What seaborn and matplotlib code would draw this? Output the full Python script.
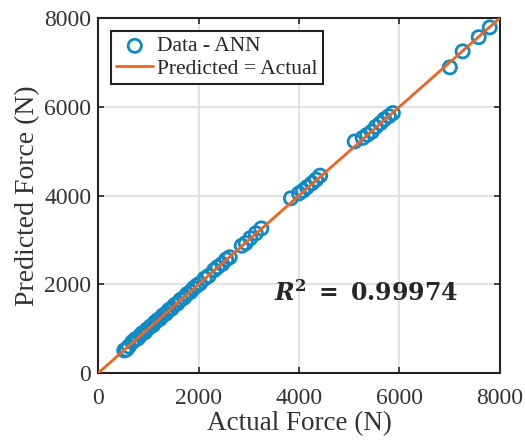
import numpy as np
import pandas as pd
import seaborn as sns
import matplotlib.pyplot as plt

# valores (N)
actual = [520, 560, 610, 680, 740, 790, 840, 880, 930, 980, 1040, 1090, 1130, 1180,
          1230, 1290, 1350, 1410, 1460, 1520, 1580, 1640, 1710, 1770, 1840, 1900,
          1960, 2030, 2120, 2200, 2310, 2380, 2470, 2550, 2620, 2860, 2940, 3030,
          3140, 3250, 3840, 4000, 4080, 4160, 4260, 4340, 4420, 5110, 5270, 5360,
          5450, 5530, 5620, 5700, 5790, 5870, 7005, 7260, 7580, 7800]
predicted = [510, 530, 600, 700, 760, 780, 850, 900, 920, 990, 1050, 1080, 1140, 1190,
             1220, 1300, 1340, 1420, 1450, 1530, 1570, 1650, 1700, 1780, 1830, 1910,
             1970, 2020, 2130, 2190, 2320, 2390, 2460, 2560, 2610, 2870, 2930, 3040,
             3150, 3260, 3940, 4050, 4110, 4190, 4280, 4360, 4450, 5220, 5300, 5370,
             5440, 5550, 5630, 5720, 5790, 5860, 6890, 7250, 7570, 7790]
r2_text = r"$\mathbfit{R}^{\mathbf{2}}\mathbf{\ =\ 0.99974}$"

data = pd.DataFrame({"Actual": actual, "Predicted": predicted})

sns.set_style("ticks")
plt.rcParams['font.family'] = ['Liberation Serif', 'DejaVu Serif']
plt.rcParams['mathtext.fontset'] = 'dejavuserif'

fig = plt.figure(figsize=(5.25, 4.41), dpi=100)
ax = fig.add_axes([0.187, 0.154, 0.765, 0.805])

sns.scatterplot(data=data, x="Actual", y="Predicted", ax=ax, marker="o", s=90,
                facecolors="none", edgecolor="#0F8AC6", linewidth=2,
                label="Data - ANN", zorder=3)
sns.lineplot(x=[0, 8000], y=[0, 8000], ax=ax, color="#F06420", linewidth=2,
             label="Predicted = Actual", zorder=4)

ax.set_xlim(0, 8000)
ax.set_ylim(0, 8000)
ax.set_xticks([0, 2000, 4000, 6000, 8000])
ax.set_yticks([0, 2000, 4000, 6000, 8000])
ax.grid(True, color="#DDDDDD", linewidth=1.2)
ax.set_axisbelow(True)
ax.tick_params(direction="in", top=True, right=True, labelsize=17, length=4,
               width=1.2, pad=5, colors="#222222", labelcolor="#333333")
ax.tick_params(axis="x", pad=11)
for s in ax.spines.values():
    s.set_visible(True)
    s.set_linewidth(1.5)
    s.set_color("#222222")
ax.set_xlabel("Actual Force (N)", fontsize=19.5, color="#333333", labelpad=1)
ax.set_ylabel("Predicted Force (N)", fontsize=20, color="#333333", labelpad=3)

leg = ax.legend(loc="upper left", fontsize=15.5, fancybox=False, framealpha=1,
                edgecolor="#222222", borderpad=0.25, handlelength=1.7,
                handletextpad=0.2, labelspacing=0.1, borderaxespad=0.6)
leg.get_frame().set_linewidth(1.5)

ax.text(3500, 1800, r2_text, fontsize=17, va="center", ha="left")

plt.savefig("out.png", dpi=100)
